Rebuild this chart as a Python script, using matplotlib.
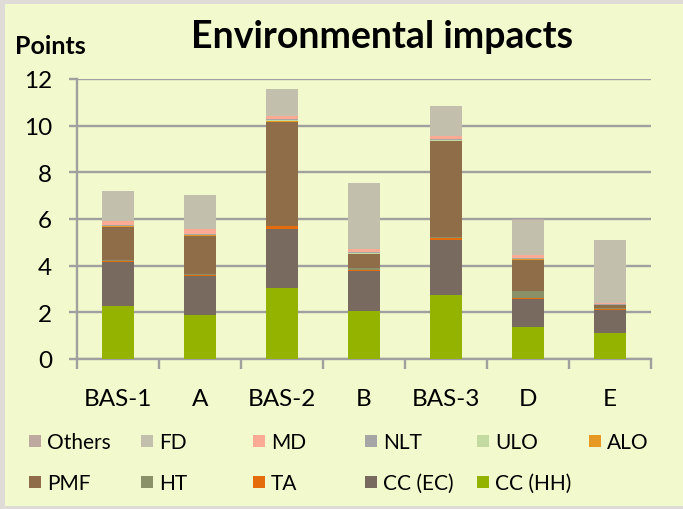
import matplotlib
matplotlib.use("Agg")
import matplotlib.pyplot as plt
from matplotlib.patches import Rectangle
import numpy as np

categories = ['BAS-1', 'A', 'BAS-2', 'B', 'BAS-3', 'D', 'E']

# impact categories, bottom of the stack first
cc_hh = [2.26, 1.89, 3.03, 2.04, 2.74, 1.37, 1.11]
cc_ec = [1.88, 1.65, 2.54, 1.75, 2.37, 1.20, 1.00]
ta = [0.07, 0.06, 0.12, 0.01, 0.08, 0.03, 0.02]
ht = [0.02, 0.04, 0.02, 0.08, 0.03, 0.30, 0.07]
pmf = [1.43, 1.64, 4.44, 0.62, 4.11, 1.36, 0.10]
alo = [0.03, 0.02, 0.05, 0.01, 0.03, 0.01, 0.01]
ulo = [0.02, 0.03, 0.03, 0.03, 0.03, 0.03, 0.02]
nlt = [0.04, 0.04, 0.05, 0.04, 0.04, 0.03, 0.02]
md = [0.16, 0.20, 0.14, 0.14, 0.14, 0.14, 0.05]
fd = [1.29, 1.47, 1.14, 2.82, 1.26, 1.50, 2.71]
others = [0.01, 0.01, 0.01, 0.01, 0.01, 0.01, 0.01]

series = [
    ('CC (HH)', cc_hh, '#93B300'),
    ('CC (EC)', cc_ec, '#786A5E'),
    ('TA', ta, '#E46C0A'),
    ('HT', ht, '#8A9168'),
    ('PMF', pmf, '#8F6D48'),
    ('ALO', alo, '#E69A24'),
    ('ULO', ulo, '#C3DBA0'),
    ('NLT', nlt, '#A6A6A6'),
    ('MD', md, '#FBAA94'),
    ('FD', fd, '#C2C0AC'),
    ('Others', others, '#BEA9A0'),
]

W, H = 683, 510
bg = '#F2F9CD'
grid_c = '#A0A0A0'
plt.rcParams['font.family'] = ['Lato', 'DejaVu Sans']

fig = plt.figure(figsize=(W / 100, H / 100), dpi=100, facecolor='#DFDCD7')
# light panel inside the grey frame
fig.patches.append(Rectangle((5 / W, 3 / H), 1, 1 - 8 / H, transform=fig.transFigure,
                             facecolor=bg, edgecolor='none', zorder=-10))

ax = fig.add_axes([77 / W, 1 - 360 / H, (651 - 77) / W, 280 / H])
ax.set_facecolor(bg)

x = np.arange(len(categories))
bottom = np.zeros(len(categories))
for name, vals, col in series:
    ax.bar(x, vals, 0.4, bottom=bottom, color=col, label=name, zorder=3)
    bottom += np.array(vals)

ax.set_xlim(-0.5, len(categories) - 0.5)
ax.set_ylim(0, 12)
ax.set_yticks(range(0, 13, 2))
ax.yaxis.grid(True, color=grid_c, linewidth=1.7, zorder=0)
ax.set_axisbelow(True)
for s in ['top', 'right']:
    ax.spines[s].set_visible(False)
for s in ['left', 'bottom']:
    ax.spines[s].set_color(grid_c)
    ax.spines[s].set_linewidth(1.7)

ax.set_xticks(x)
ax.set_xticklabels(categories)
ax.set_xticks(np.arange(-0.5, len(categories), 1), minor=True)
ax.tick_params(axis='x', which='major', length=0, pad=21, labelsize=17.5)
ax.tick_params(axis='x', which='minor', length=7, width=1.7, color=grid_c)
ax.tick_params(axis='y', length=6, width=1.7, color=grid_c, pad=12, labelsize=17.5)

fig.text(382 / W, 1 - 37 / H, 'Environmental impacts', ha='center', va='center',
         fontsize=27, fontweight='bold')
fig.text(15 / W, 1 - 47 / H, 'Points', ha='left', va='center',
         fontsize=18, fontweight='bold')

# legend laid out row by row, 6 per row
legend_order = ['Others', 'FD', 'MD', 'NLT', 'ULO', 'ALO',
                'PMF', 'HT', 'TA', 'CC (EC)', 'CC (HH)']
colors = {name: col for name, _, col in series}
for i, name in enumerate(legend_order):
    row, c = divmod(i, 6)
    mx = 29 + c * 112
    my = 442 + row * 41
    fig.patches.append(Rectangle((mx / W, 1 - (my + 6) / H), 12 / W, 12 / H,
                                 transform=fig.transFigure, facecolor=colors[name],
                                 edgecolor='none', zorder=2))
    fig.text((mx + 18) / W, 1 - (my + 1) / H, name, ha='left', va='center', fontsize=15)

fig.savefig('out.png', dpi=100, facecolor=fig.get_facecolor())
